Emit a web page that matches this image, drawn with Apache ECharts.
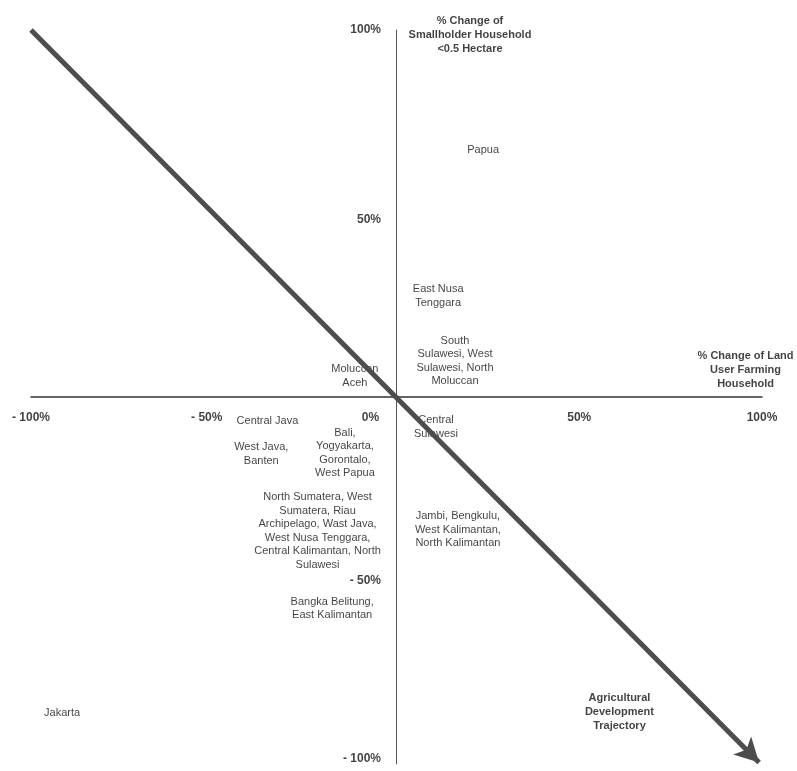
<!DOCTYPE html>
<html>
<head>
<meta charset="utf-8">
<script src="https://cdn.jsdelivr.net/npm/echarts@6/dist/echarts.min.js"></script>
<style>
html,body{margin:0;padding:0;background:#fff;}
#chart{width:797px;height:771px;}
</style>
</head>
<body>
<div id="chart"></div>
<script>
// Axis ticks (percent change)
const xTicks = [-100, -50, 0, 50, 100];
const yTicks = [-100, -50, 50, 100];

// Province group labels placed at their (x = % change land-user farming HH, y = % change smallholder HH <0.5 ha)
const regionNames = [
  'Papua',
  'East Nusa\nTenggara',
  'South\nSulawesi, West\nSulawesi, North\nMoluccan',
  'Moluccan\nAceh',
  'Central Java',
  'West Java,\nBanten',
  'Bali,\nYogyakarta,\nGorontalo,\nWest Papua',
  'North Sumatera, West\nSumatera, Riau\nArchipelago, Wast Java,\nWest Nusa Tenggara,\nCentral Kalimantan, North\nSulawesi',
  'Bangka Belitung,\nEast Kalimantan',
  'Jakarta',
  'Central\nSulawesi',
  'Jambi, Bengkulu,\nWest Kalimantan,\nNorth Kalimantan'
];
const regionX = [23.7, 11.4, 16.0, -11.4, -35.3, -37.0, -14.1, -21.6, -17.6, -91.5, 10.8, 16.8];
const regionY = [67.3, 27.5, 9.8, 5.7, -6.5, -15.5, -15.3, -36.5, -57.6, -86.0, -8.2, -36.2];

// Bold axis titles / annotation
const titleNames = [
  '% Change of\nSmallholder Household\n<0.5 Hectare',
  '% Change of Land\nUser Farming\nHousehold',
  'Agricultural\nDevelopment\nTrajectory'
];
const titleX = [20.1, 95.5, 61.0];
const titleY = [98.7, 7.4, -85.8];

// Agricultural development trajectory (start, end)
const trajectoryStart = [-100, 100];
const trajectoryEnd = [99.2, -99.6];

const FONT = 'Liberation Sans, Arial, sans-serif';

// small visual nudges of individual tick labels (pixels), as in the printed figure
const xLabelNudge = { '-50': [-7, 0], '0': [-26, 0] };
const yLabelNudge = { '50': [0, 6], '-100': [0, -5] };

function pct(v) {
  if (v < 0) return '- ' + (-v) + '%';
  return v + '%';
}

const tickLabelStyle = {
  show: true,
  fontFamily: FONT, fontSize: 12, fontWeight: 'bold', color: '#111',
  formatter: function (p) { return pct(p.data.tick); }
};

const chart = echarts.init(document.getElementById('chart'));
chart.setOption({
  backgroundColor: '#ffffff',
  animation: false,
  grid: { left: 31, right: 35, top: 30, bottom: 7, containLabel: false, outerBoundsMode: 'none' },
  xAxis: {
    type: 'value', min: -100, max: 100, interval: 50,
    axisLine: { onZero: true, lineStyle: { color: '#333', width: 1.5 } },
    axisTick: { show: false },
    splitLine: { show: false },
    axisLabel: { show: false }
  },
  yAxis: {
    type: 'value', min: -100, max: 100, interval: 50,
    axisLine: { onZero: true, lineStyle: { color: '#555', width: 1 } },
    axisTick: { show: false },
    splitLine: { show: false },
    axisLabel: { show: false }
  },
  series: [
    {
      type: 'scatter',
      silent: true,
      symbolSize: 1,
      itemStyle: { color: 'transparent' },
      label: {
        show: true, position: 'inside',
        formatter: function (p) { return p.data.name; },
        fontFamily: FONT, fontSize: 11, lineHeight: 13.5, color: '#111', align: 'center'
      },
      data: regionNames.map((n, i) => ({ name: n, value: [regionX[i], regionY[i]] })),
      markLine: {
        silent: true,
        symbol: ['none', 'arrow'],
        symbolSize: [19, 24],
        label: { show: false },
        lineStyle: { color: '#4d4d4d', width: 5, type: 'solid' },
        data: [[{ coord: trajectoryStart }, { coord: trajectoryEnd }]]
      }
    },
    {
      type: 'scatter',
      silent: true,
      symbolSize: 1,
      itemStyle: { color: 'transparent' },
      label: {
        show: true, position: 'inside',
        formatter: function (p) { return p.data.name; },
        fontFamily: FONT, fontSize: 11, fontWeight: 'bold', lineHeight: 14, color: '#111', align: 'center'
      },
      data: titleNames.map((n, i) => ({ name: n, value: [titleX[i], titleY[i]] }))
    },
    {
      // x-axis tick labels, drawn along the zero line
      type: 'scatter',
      silent: true,
      symbolSize: 1,
      itemStyle: { color: 'transparent' },
      label: Object.assign({}, tickLabelStyle, { position: 'bottom', distance: 14 }),
      data: xTicks.map(v => ({
        tick: v, value: [v, 0],
        label: xLabelNudge[String(v)] ? { offset: xLabelNudge[String(v)] } : undefined
      }))
    },
    {
      // y-axis tick labels, drawn along the zero line
      type: 'scatter',
      silent: true,
      symbolSize: 1,
      itemStyle: { color: 'transparent' },
      label: Object.assign({}, tickLabelStyle, { position: 'left', distance: 15 }),
      data: yTicks.map(v => ({
        tick: v, value: [0, v],
        label: yLabelNudge[String(v)] ? { offset: yLabelNudge[String(v)] } : undefined
      }))
    }
  ]
});
</script>
</body>
</html>
